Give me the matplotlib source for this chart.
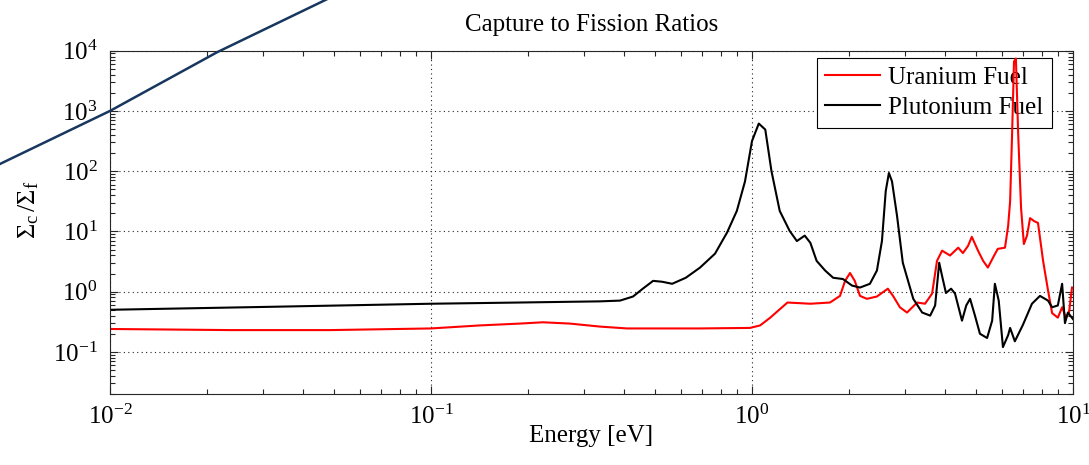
import matplotlib
matplotlib.use("Agg")
import matplotlib.pyplot as plt
from matplotlib.ticker import LogLocator, NullFormatter

plt.rcParams["font.family"] = ["Liberation Serif", "DejaVu Serif"]
plt.rcParams["mathtext.fontset"] = "custom"
plt.rcParams["mathtext.rm"] = "Liberation Serif"
plt.rcParams["mathtext.it"] = "Liberation Serif:italic"
plt.rcParams["mathtext.default"] = "rm"
plt.rcParams["axes.unicode_minus"] = False

# capture/fission ratio, plutonium fuel
energy_pu = [0.010, 0.0315, 0.10, 0.189, 0.336, 0.388, 0.426, 0.457, 0.492,
             0.525, 0.564, 0.622, 0.689, 0.767, 0.836, 0.897, 0.951, 1.00,
             1.05, 1.10, 1.15, 1.22, 1.31, 1.38, 1.46, 1.52, 1.59, 1.69,
             1.79, 1.92, 2.05, 2.17, 2.33, 2.45, 2.54, 2.61, 2.67, 2.73,
             2.83, 2.95, 3.18, 3.39, 3.59, 3.72, 3.83, 3.91, 4.02, 4.17,
             4.29, 4.51, 4.65, 4.78, 4.95, 5.13, 5.40, 5.60, 5.71, 5.87,
             6.05, 6.28, 6.37, 6.59, 6.98, 7.45, 7.89, 8.36, 8.61, 8.97,
             9.25, 9.44, 9.64, 10.0]
ratio_pu = [0.50, 0.56, 0.63, 0.66, 0.69, 0.71, 0.83, 1.12, 1.51,
            1.46, 1.35, 1.70, 2.51, 4.27, 9.55, 21.9, 67.6, 316,
            617, 490, 100, 21.9, 10.2, 6.92, 8.51, 6.46, 3.24, 2.24,
            1.70, 1.62, 1.26, 1.17, 1.35, 2.24, 6.92, 46.8, 93.3, 67.6,
            18.2, 3.02, 0.76, 0.45, 0.40, 0.59, 3.02, 1.82, 0.95, 1.12,
            0.93, 0.33, 0.59, 0.76, 0.40, 0.20, 0.17, 0.33, 1.35, 0.71,
            0.12, 0.19, 0.25, 0.15, 0.28, 0.63, 0.85, 0.71, 0.55, 0.59,
            1.35, 0.30, 0.45, 0.35]

# capture/fission ratio, uranium fuel
energy_u = [0.010, 0.0237, 0.0484, 0.10, 0.142, 0.189, 0.223, 0.271, 0.336,
            0.408, 0.689, 0.986, 1.06, 1.14, 1.21, 1.29, 1.52, 1.75, 1.88,
            1.95, 2.02, 2.09, 2.17, 2.28, 2.45, 2.65, 2.75, 2.89, 3.04,
            3.27, 3.46, 3.64, 3.77, 3.91, 4.14, 4.39, 4.54, 4.71, 4.84,
            5.06, 5.25, 5.43, 5.68, 5.83, 6.14, 6.28, 6.37, 6.46, 6.55,
            6.64, 6.75, 6.89, 7.03, 7.19, 7.35, 7.57, 7.78, 8.07, 8.36,
            8.61, 8.97, 9.25, 9.51, 9.72, 9.93]
ratio_u = [0.24, 0.23, 0.23, 0.245, 0.275, 0.295, 0.31, 0.295, 0.263,
           0.245, 0.245, 0.25, 0.275, 0.37, 0.49, 0.66, 0.63, 0.66, 0.85,
           1.51, 2.04, 1.51, 0.85, 0.76, 0.83, 1.12, 0.85, 0.55, 0.45,
           0.66, 0.63, 0.93, 3.24, 4.79, 3.98, 5.37, 4.37, 5.75, 8.13,
           4.79, 3.24, 2.51, 3.98, 5.13, 5.37, 12.3, 31.6, 407, 6610,
           7410, 407, 24.5, 6.17, 8.51, 16.6, 14.8, 13.8, 3.24, 1.05,
           0.44, 0.37, 0.55, 0.37, 0.45, 1.17]

# stray line running across the upper left corner
stray_x = [0.00394, 0.00454, 0.010, 0.02154, 0.0457, 0.0521]
stray_y = [91, 131.5, 1000, 9400, 65000, 91600]

fig = plt.figure(figsize=(10.89, 4.65), dpi=100)
ax = fig.add_axes([0.101, 0.1527, 0.8843, 0.7383])
ax.set_axisbelow(True)

ax.plot(energy_u, ratio_u, color="red", lw=1.5, label="Uranium Fuel", zorder=3)
ax.plot(energy_pu, ratio_pu, color="black", lw=1.5, label="Plutonium Fuel", zorder=3)

ax.set_xscale("log")
ax.set_yscale("log")
ax.set_xlim(1e-2, 1e1)
ax.set_ylim(0.02, 1e4)

ax.xaxis.set_major_locator(LogLocator(base=10, numticks=10))
ax.xaxis.set_minor_locator(LogLocator(base=10, subs=range(2, 10), numticks=20))
ax.yaxis.set_major_locator(LogLocator(base=10, numticks=10))
ax.yaxis.set_minor_locator(LogLocator(base=10, subs=range(2, 10), numticks=20))
ax.xaxis.set_minor_formatter(NullFormatter())
ax.yaxis.set_minor_formatter(NullFormatter())

ax.tick_params(which="both", direction="in", top=True, right=True,
               colors="#262626", labelcolor="black", labelsize=18)
ax.tick_params(which="major", length=6, width=0.8, pad=8)
ax.tick_params(axis="y", which="major", pad=9)
ax.tick_params(which="minor", length=3.5, width=0.8)
for s in ax.spines.values():
    s.set_color("#262626")
    s.set_linewidth(0.8)
    s.set_zorder(4)

ax.grid(True, which="major", linestyle=(0, (1, 3)), color="#262626", lw=0.8)

ax.set_title("Capture to Fission Ratios", fontsize=18, pad=14)
ax.set_xlabel("Energy [eV]", fontsize=18)
ax.xaxis.set_label_coords(0.5, -0.09)
ax.set_ylabel(r"$\Sigma_c\,/\Sigma_f$", fontsize=19)
ax.yaxis.set_label_coords(-0.072, 0.536)

# legend sits above the grid but under the curves
leg = ax.legend(loc="upper right", bbox_to_anchor=(0.978, 0.979),
                borderaxespad=0, fontsize=18, fancybox=False, framealpha=1,
                edgecolor="black", handlelength=2.2, handletextpad=0.3,
                borderpad=0.35, labelspacing=0.3)
leg.get_frame().set_linewidth(0.8)
leg.set_zorder(2)

ax.plot(stray_x, stray_y, color="#17375e", lw=1.8, clip_on=False, zorder=5)

fig.savefig("out.png", dpi=100)
